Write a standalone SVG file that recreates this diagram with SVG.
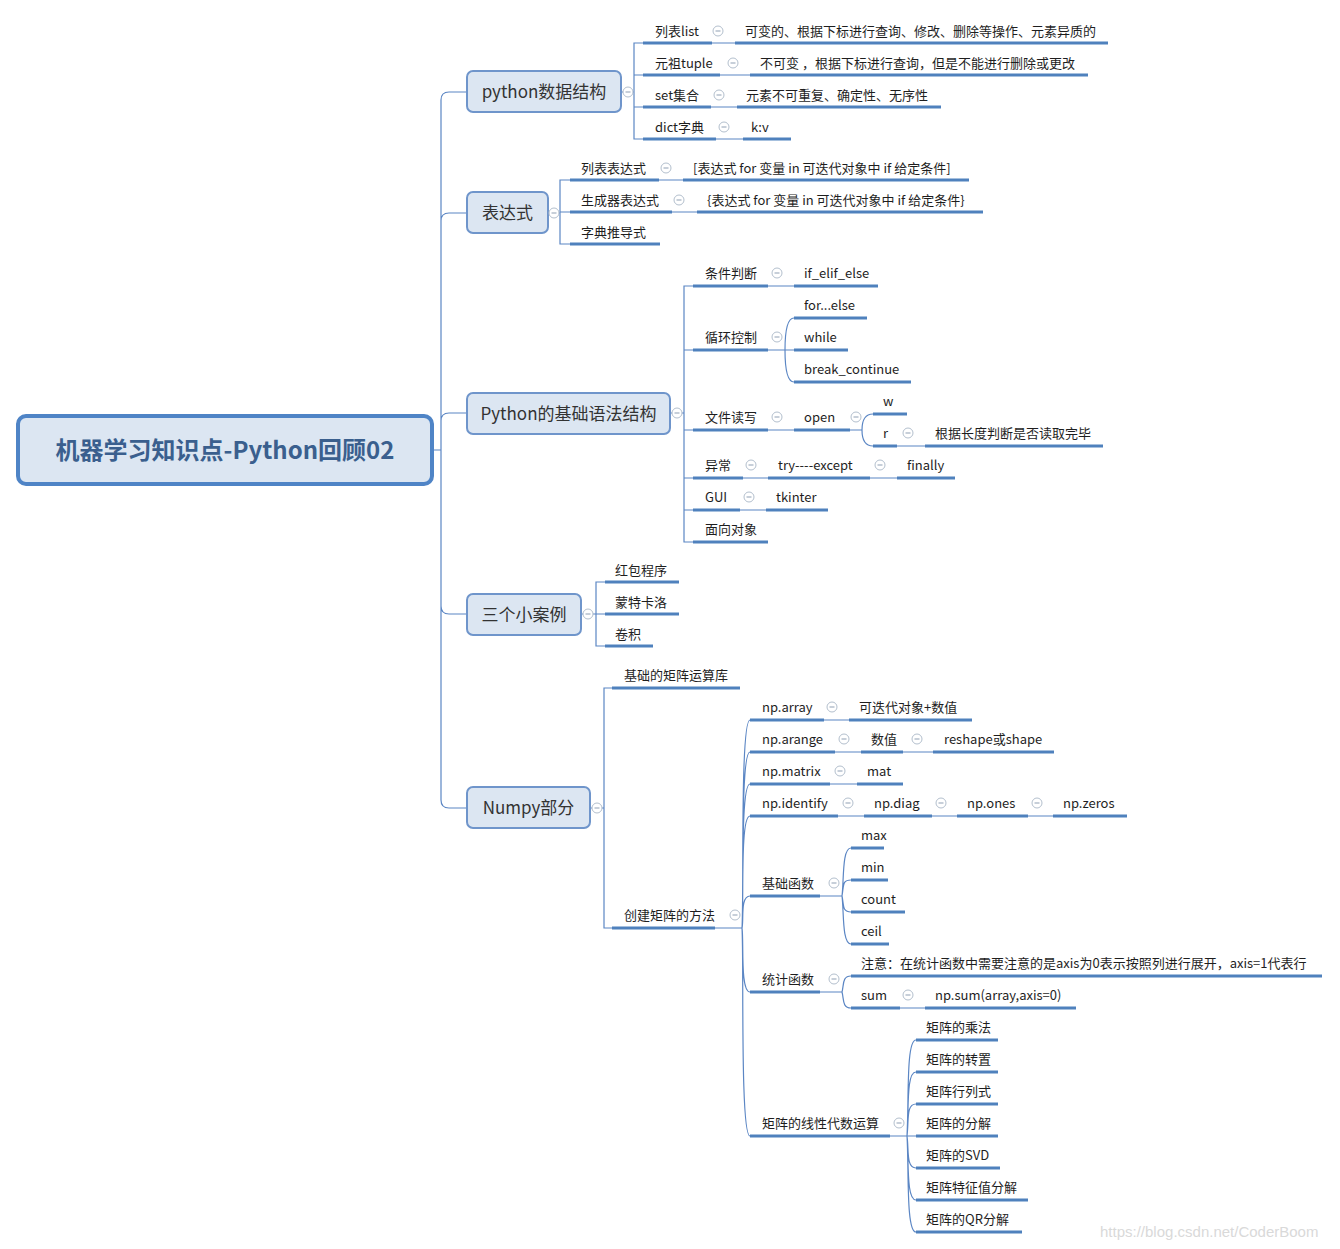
<svg xmlns="http://www.w3.org/2000/svg" xmlns:xlink="http://www.w3.org/1999/xlink" width="1340" height="1249" viewBox="0 0 1340 1249">
<style>
.t{font-family:"Noto Sans CJK SC","Noto Sans",sans-serif;font-size:13px;fill:#1e1e1e}
.mt{font-family:"Noto Sans CJK SC","Noto Sans",sans-serif;font-size:17px;fill:#333;text-anchor:middle}
.rt{font-family:"Noto Sans CJK SC","Noto Sans",sans-serif;font-size:24px;font-weight:bold;fill:#3a5f8e;text-anchor:middle}
.box{fill:#dce6f2;stroke:#6f95cb;stroke-width:2}
.u{stroke:#4f81bd;stroke-width:3;fill:none}
.c{stroke:#5b86c4;stroke-width:1.2;fill:none}
.wm{font-family:"Liberation Sans",Arial,sans-serif;font-size:15px;fill:#d9d9d9}
</style>
<defs>
<g id="col"><circle r="5" fill="#fff" stroke="#b3bfcd" stroke-width="1"/><path d="M-2.5,0H2.5" stroke="#8f9fb3" stroke-width="1"/></g>
</defs>
<rect width="1340" height="1249" fill="#fff"/>

<g id="connectors">
<path class="c" d="M432,450H441M441,450V100Q441,92 449,92H467M441,450V221Q441,213 449,213H467M441,450V421Q441,413 449,413H467M441,450V606Q441,614 449,614H467M441,450V800Q441,808 449,808H467"/>
<path class="c" d="M621,92H634M643,43H634V139H643M634,75H643M634,107H643M712,43H735M720,75H750M711,107H737M716,139H743"/>
<path class="c" d="M548,213H560M570,180H560V244H570M560,212H570M659,180H683M672,212H697"/>
<path class="c" d="M670,413H684M693,286H684V542H693M684,350H693M684,430H693M684,478H693M684,510H693M768,286H794M768,350H785M785,350Q785,318 794,318M785,350H794M785,350Q785,382 794,382M768,430H794M850,430H862M862,430Q862,414 873,414M862,430Q862,446 873,446M897,446H925M743,478H768M870,478H897M740,510H766"/>
<path class="c" d="M581,614H596M605,582H596V646H605M596,614H605"/>
<path class="c" d="M590,808H604M612,688H604V928H612M715,928H742"/>
<path class="c" d="M742,928C744,900 740,720 750,720M742,928C744,900 740,752 750,752M742,928C744,900 740,784 750,784M742,928C744,900 740,816 750,816M742,928C744,920 740,896 750,896M742,928C744,940 740,992 750,992M742,928C744,960 740,1136 750,1136"/>
<path class="c" d="M824,720H849M835,752H861M903,752H933M830,784H857M838,816H864M932,816H957M1028,816H1053"/>
<path class="c" d="M820,896H842M842,896C844,880 842,848 851,848M842,896C844,885 842,880 851,880M842,896C844,905 842,912 851,912M842,896C844,912 842,944 851,944"/>
<path class="c" d="M820,992H842M842,992C844,985 842,976 851,976M842,992C844,999 842,1008 851,1008M900,1008H925"/>
<path class="c" d="M890,1136H907M907,1136C909,1100 906,1040 916,1040M907,1136C909,1110 906,1072 916,1072M907,1136C909,1120 906,1104 916,1104M907,1136H916M907,1136C909,1150 906,1168 916,1168M907,1136C909,1160 906,1200 916,1200M907,1136C909,1170 906,1232 916,1232"/>
</g>

<g id="root">
<rect x="18" y="416" width="414" height="68" rx="8" fill="#dce6f2" stroke="#4f84c6" stroke-width="4"/>
<text class="rt" x="225" y="459">机器学习知识点-Python回顾02</text>
</g>

<g id="n-pyds">
<rect class="box" x="467" y="71" width="154" height="41" rx="6"/>
<text class="mt" x="544" y="98">python数据结构</text>
<use xlink:href="#col" x="628" y="92"/>
</g>
<g id="n-list">
<text class="t" x="655" y="36">列表list</text><path class="u" d="M643,43H712"/>
<use xlink:href="#col" x="718" y="31"/>
<text class="t" x="745" y="36">可变的、根据下标进行查询、修改、删除等操作、元素异质的</text><path class="u" d="M735,43H1108"/>
</g>
<g id="n-tuple">
<text class="t" x="655" y="68">元祖tuple</text><path class="u" d="M643,75H720"/>
<use xlink:href="#col" x="733" y="63"/>
<text class="t" x="760" y="68">不可变 ，根据下标进行查询，但是不能进行删除或更改</text><path class="u" d="M750,75H1088"/>
</g>
<g id="n-set">
<text class="t" x="655" y="100">set集合</text><path class="u" d="M643,107H711"/>
<use xlink:href="#col" x="719" y="95"/>
<text class="t" x="746" y="100">元素不可重复、确定性、无序性</text><path class="u" d="M737,107H941"/>
</g>
<g id="n-dict">
<text class="t" x="655" y="132">dict字典</text><path class="u" d="M643,139H716"/>
<use xlink:href="#col" x="724" y="127"/>
<text class="t" x="751" y="132">k:v</text><path class="u" d="M743,139H791"/>
</g>

<g id="n-expr">
<rect class="box" x="467" y="192" width="81" height="41" rx="6"/>
<text class="mt" x="507.5" y="219">表达式</text>
<use xlink:href="#col" x="554" y="213"/>
</g>
<g id="n-listexpr">
<text class="t" x="581" y="173">列表表达式</text><path class="u" d="M570,180H659"/>
<use xlink:href="#col" x="666" y="168"/>
<text class="t" x="693" y="173">[表达式 for 变量 in 可迭代对象中 if 给定条件]</text><path class="u" d="M683,180H969"/>
</g>
<g id="n-genexpr">
<text class="t" x="581" y="205">生成器表达式</text><path class="u" d="M570,212H672"/>
<use xlink:href="#col" x="679" y="200"/>
<text class="t" x="707" y="205">{表达式 for 变量 in 可迭代对象中 if 给定条件}</text><path class="u" d="M697,212H983"/>
</g>
<g id="n-dictexpr">
<text class="t" x="581" y="237">字典推导式</text><path class="u" d="M570,244H660"/>
</g>

<g id="n-syntax">
<rect class="box" x="467" y="393" width="203" height="41" rx="6"/>
<text class="mt" x="568.5" y="420">Python的基础语法结构</text>
<use xlink:href="#col" x="677" y="413"/>
</g>
<g id="n-cond">
<text class="t" x="705" y="278">条件判断</text><path class="u" d="M693,286H768"/>
<use xlink:href="#col" x="777" y="273"/>
<text class="t" x="804" y="278">if_elif_else</text><path class="u" d="M794,286H878"/>
</g>
<g id="n-loop">
<text class="t" x="705" y="342">循环控制</text><path class="u" d="M693,350H768"/>
<use xlink:href="#col" x="777" y="337"/>
<text class="t" x="804" y="310">for...else</text><path class="u" d="M794,318H867"/>
<text class="t" x="804" y="342">while</text><path class="u" d="M794,350H848"/>
<text class="t" x="804" y="374">break_continue</text><path class="u" d="M794,382H911"/>
</g>
<g id="n-file">
<text class="t" x="705" y="422">文件读写</text><path class="u" d="M693,430H768"/>
<use xlink:href="#col" x="777" y="417"/>
<text class="t" x="804" y="422">open</text><path class="u" d="M794,430H850"/>
<use xlink:href="#col" x="856" y="417"/>
<text class="t" x="883" y="406">w</text><path class="u" d="M873,414H907"/>
<text class="t" x="883" y="438">r</text><path class="u" d="M873,446H897"/>
<use xlink:href="#col" x="908" y="433"/>
<text class="t" x="935" y="438">根据长度判断是否读取完毕</text><path class="u" d="M925,446H1103"/>
</g>
<g id="n-exc">
<text class="t" x="705" y="470">异常</text><path class="u" d="M693,478H743"/>
<use xlink:href="#col" x="751" y="465"/>
<text class="t" x="778" y="470">try----except</text><path class="u" d="M768,478H870"/>
<use xlink:href="#col" x="880" y="465"/>
<text class="t" x="907" y="470">finally</text><path class="u" d="M897,478H955"/>
</g>
<g id="n-gui">
<text class="t" x="705" y="502">GUI</text><path class="u" d="M693,510H740"/>
<use xlink:href="#col" x="749" y="497"/>
<text class="t" x="776" y="502">tkinter</text><path class="u" d="M766,510H828"/>
</g>
<g id="n-oop">
<text class="t" x="705" y="534">面向对象</text><path class="u" d="M693,542H768"/>
</g>

<g id="n-cases">
<rect class="box" x="467" y="594" width="114" height="41" rx="6"/>
<text class="mt" x="524" y="621">三个小案例</text>
<use xlink:href="#col" x="588" y="614"/>
<text class="t" x="615" y="575">红包程序</text><path class="u" d="M605,582H679"/>
<text class="t" x="615" y="607">蒙特卡洛</text><path class="u" d="M605,614H679"/>
<text class="t" x="615" y="639">卷积</text><path class="u" d="M605,646H653"/>
</g>

<g id="n-numpy">
<rect class="box" x="467" y="787" width="123" height="41" rx="6"/>
<text class="mt" x="528.5" y="814">Numpy部分</text>
<use xlink:href="#col" x="597" y="808"/>
</g>
<g id="n-base">
<text class="t" x="624" y="680">基础的矩阵运算库</text><path class="u" d="M612,688H740"/>
</g>
<g id="n-create">
<text class="t" x="624" y="920">创建矩阵的方法</text><path class="u" d="M612,928H715"/>
<use xlink:href="#col" x="735" y="915"/>
</g>
<g id="n-array">
<text class="t" x="762" y="712">np.array</text><path class="u" d="M750,720H824"/>
<use xlink:href="#col" x="832" y="707"/>
<text class="t" x="859" y="712">可迭代对象+数值</text><path class="u" d="M849,720H972"/>
</g>
<g id="n-arange">
<text class="t" x="762" y="744">np.arange</text><path class="u" d="M750,752H835"/>
<use xlink:href="#col" x="844" y="739"/>
<text class="t" x="871" y="744">数值</text><path class="u" d="M861,752H903"/>
<use xlink:href="#col" x="917" y="739"/>
<text class="t" x="944" y="744">reshape或shape</text><path class="u" d="M933,752H1054"/>
</g>
<g id="n-matrix">
<text class="t" x="762" y="776">np.matrix</text><path class="u" d="M750,784H830"/>
<use xlink:href="#col" x="840" y="771"/>
<text class="t" x="867" y="776">mat</text><path class="u" d="M857,784H903"/>
</g>
<g id="n-identify">
<text class="t" x="762" y="808">np.identify</text><path class="u" d="M750,816H838"/>
<use xlink:href="#col" x="848" y="803"/>
<text class="t" x="874" y="808">np.diag</text><path class="u" d="M864,816H932"/>
<use xlink:href="#col" x="941" y="803"/>
<text class="t" x="967" y="808">np.ones</text><path class="u" d="M957,816H1028"/>
<use xlink:href="#col" x="1037" y="803"/>
<text class="t" x="1063" y="808">np.zeros</text><path class="u" d="M1053,816H1127"/>
</g>
<g id="n-basefn">
<text class="t" x="762" y="888">基础函数</text><path class="u" d="M750,896H820"/>
<use xlink:href="#col" x="834" y="883"/>
<text class="t" x="861" y="840">max</text><path class="u" d="M851,848H884"/>
<text class="t" x="861" y="872">min</text><path class="u" d="M851,880H888"/>
<text class="t" x="861" y="904">count</text><path class="u" d="M851,912H905"/>
<text class="t" x="861" y="936">ceil</text><path class="u" d="M851,944H889"/>
</g>
<g id="n-statfn">
<text class="t" x="762" y="984">统计函数</text><path class="u" d="M750,992H820"/>
<use xlink:href="#col" x="834" y="979"/>
<text class="t" x="861" y="968">注意：在统计函数中需要注意的是axis为0表示按照列进行展开，axis=1代表行</text><path class="u" d="M851,976H1322"/>
<text class="t" x="861" y="1000">sum</text><path class="u" d="M851,1008H900"/>
<use xlink:href="#col" x="908" y="995"/>
<text class="t" x="935" y="1000">np.sum(array,axis=0)</text><path class="u" d="M925,1008H1076"/>
</g>
<g id="n-linalg">
<text class="t" x="762" y="1128">矩阵的线性代数运算</text><path class="u" d="M750,1136H890"/>
<use xlink:href="#col" x="899" y="1123"/>
<text class="t" x="926" y="1032">矩阵的乘法</text><path class="u" d="M916,1040H998"/>
<text class="t" x="926" y="1064">矩阵的转置</text><path class="u" d="M916,1072H998"/>
<text class="t" x="926" y="1096">矩阵行列式</text><path class="u" d="M916,1104H998"/>
<text class="t" x="926" y="1128">矩阵的分解</text><path class="u" d="M916,1136H998"/>
<text class="t" x="926" y="1160">矩阵的SVD</text><path class="u" d="M916,1168H1000"/>
<text class="t" x="926" y="1192">矩阵特征值分解</text><path class="u" d="M916,1200H1028"/>
<text class="t" x="926" y="1224">矩阵的QR分解</text><path class="u" d="M916,1232H1022"/>
</g>

<text class="wm" x="1100" y="1237">https://blog.csdn.net/CoderBoom</text>
</svg>
